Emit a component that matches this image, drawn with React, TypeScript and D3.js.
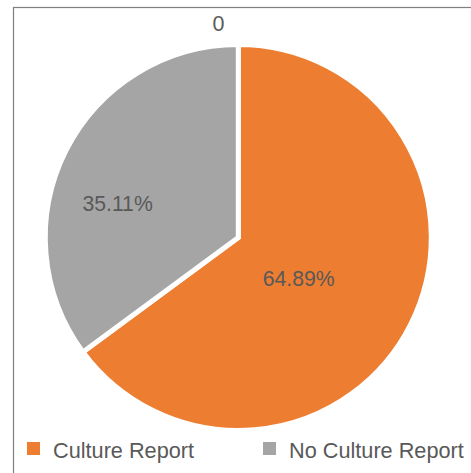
import React from "react";
import * as d3 from "d3";

const categories = ["Culture Report", "No Culture Report"];
const values = [64.89, 35.11];
const colors = ["#ED7D31", "#A5A5A5"];
const titleText = "0";
// label placement (Excel best-fit): angle in degrees clockwise from top, radius fraction
const labelAngles = [124.5, 285.8];
const labelRadii = [0.38, 0.65];

const W = 471;
const H = 473;
const cx = 238.3;
const cy = 237.5;
const R = 193;
const font = "'Liberation Sans', Arial, sans-serif";
const textColor = "#595959";

export default function App() {
  const pie = d3.pie<number>().sort(null).value((d) => d)(values);
  const arc = d3.arc<d3.PieArcDatum<number>>().innerRadius(0).outerRadius(R);
  const fmt = (v: number) => v.toFixed(2) + "%";
  const legendX = [27, 263];
  return (
    <svg
      width={W}
      height={H}
      style={{ position: "absolute", left: 0, top: 0 }}
      fontFamily={font}
    >
      <rect x={0} y={0} width={W} height={H} fill="#fff" />
      <rect x={13.5} y={7.5} width={600} height={600} fill="none" stroke="#7f7f7f" strokeWidth={1.2} />
      <text x={218.5} y={31} textAnchor="middle" fontSize={21.5} fill={textColor}>
        {titleText}
      </text>
      <g transform={`translate(${cx},${cy})`}>
        {pie.map((p, i) => (
          <path key={i} d={arc(p) || ""} fill={colors[i]} stroke="#fff" strokeWidth={5} strokeLinejoin="miter" />
        ))}
        {pie.map((p, i) => {
          const a = (labelAngles[i] * Math.PI) / 180;
          const r = R * labelRadii[i];
          return (
            <text
              key={i}
              x={r * Math.sin(a)}
              y={-r * Math.cos(a)}
              textAnchor="middle"
              dy="0.35em"
              fontSize={21.2}
              fill={textColor}
            >
              {fmt(p.data)}
            </text>
          );
        })}
      </g>
      {categories.map((c, i) => (
        <g key={c}>
          <rect x={legendX[i]} y={442} width={13} height={13} fill={colors[i]} />
          <text x={legendX[i] + 26} y={458} fontSize={21.7} fill={textColor}>
            {c}
          </text>
        </g>
      ))}
    </svg>
  );
}
